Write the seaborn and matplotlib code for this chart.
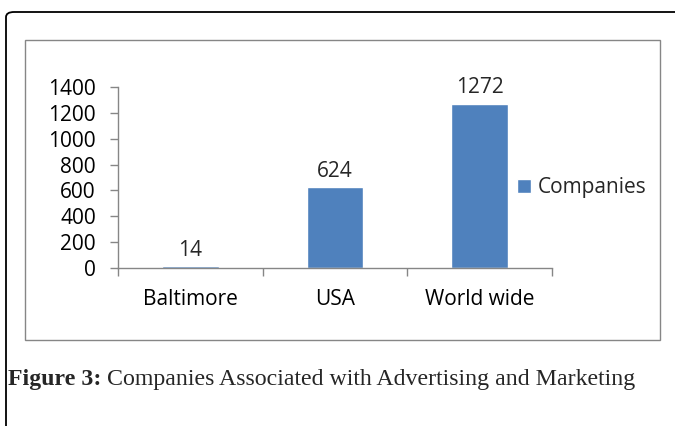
import matplotlib
matplotlib.use("Agg")
import matplotlib.pyplot as plt
from matplotlib.patches import Rectangle, FancyBboxPatch
import seaborn as sns
import pandas as pd

# data
categories = ['Baltimore', 'USA', 'World wide']
companies = [14, 624, 1272]
series_name = 'Companies'
yticks = [0, 200, 400, 600, 800, 1000, 1200, 1400]
caption_bold = 'Figure 3:'
caption_text = ' Companies Associated with Advertising and Marketing'

BLUE = '#4F81BD'
GRAY = '#868686'
FS = 15

sns.set_style('white')
plt.rcParams['font.family'] = ['Open Sans', 'DejaVu Sans']

W, H = 675, 426
fig = plt.figure(figsize=(W / 100, H / 100), dpi=100)

def fx(px):
    return px / W

def fy(py):
    return 1 - py / H

# outer frame (only top/left visible, rounded corner)
frame = FancyBboxPatch((fx(6), fy(460)), fx(720), fy(12) - fy(460),
                       boxstyle='round,pad=0,rounding_size=0.012',
                       transform=fig.transFigure, fill=False,
                       edgecolor='black', linewidth=1.3, zorder=0)
fig.patches.append(frame)

# chart area border
box = Rectangle((fx(25), fy(340)), fx(660) - fx(25), fy(40) - fy(340),
                transform=fig.transFigure, fill=False,
                edgecolor=GRAY, linewidth=1.0, zorder=0)
fig.patches.append(box)

ax = fig.add_axes([fx(118), fy(268), fx(552) - fx(118), fy(87) - fy(268)])

df = pd.DataFrame({'category': categories, 'value': companies,
                   'series': series_name})
sns.barplot(data=df, x='category', y='value', hue='series',
            palette=[BLUE], width=0.39, dodge=False, ax=ax,
            saturation=1)

ax.set_ylim(0, 1400)
ax.set_xlim(-0.5, len(categories) - 0.5)
ax.set_yticks(yticks)
ax.set_xlabel('')
ax.set_ylabel('')
for s in ['top', 'right']:
    ax.spines[s].set_visible(False)
for s in ['left', 'bottom']:
    ax.spines[s].set_color(GRAY)
    ax.spines[s].set_linewidth(1.0)

ax.tick_params(axis='y', left=True, length=6, width=1.0, color=GRAY,
               pad=10, labelsize=FS, labelcolor='black')
ax.tick_params(axis='x', bottom=False, length=0, pad=15, labelsize=FS,
               labelcolor='black')
ax.set_xticks([i - 0.5 for i in range(len(categories) + 1)], minor=True)
ax.tick_params(axis='x', which='minor', bottom=True, length=6, width=1.0,
               color=GRAY)

for cont in ax.containers:
    ax.bar_label(cont, padding=4, fontsize=FS)

sns.move_legend(ax, loc='center left', bbox_to_anchor=(fx(517), fy(188)),
                bbox_transform=fig.transFigure, frameon=False, title=None,
                fontsize=FS, handlelength=0.65, handleheight=0.65,
                handletextpad=0.35, borderpad=0, borderaxespad=0)

# caption
renderer = fig.canvas.get_renderer()
t1 = fig.text(fx(8), fy(380), caption_bold, fontsize=17.2, fontweight='bold',
              family='Liberation Serif', va='center', ha='left')
bb = t1.get_window_extent(renderer)
fig.text(bb.x1 / W, fy(380), caption_text, fontsize=17.2,
         family='Liberation Serif', va='center', ha='left')

fig.savefig('out.png', dpi=100)
